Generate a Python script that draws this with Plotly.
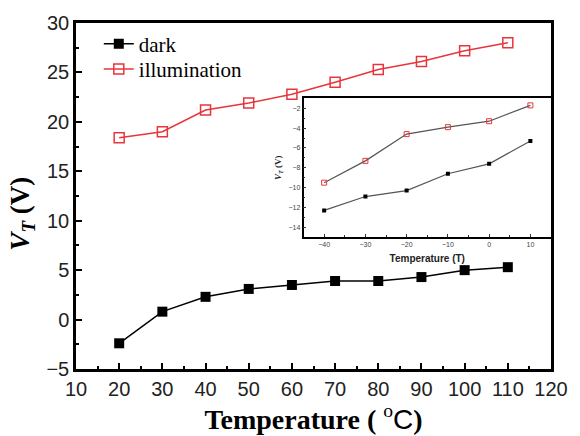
import plotly.graph_objects as go

temp_main = [20, 30, 40, 50, 60, 70, 80, 90, 100, 110]
vt_dark = [-2.4, 0.8, 2.3, 3.1, 3.5, 3.9, 3.9, 4.3, 5.0, 5.3]
vt_illum = [18.4, 19.0, 21.2, 21.9, 22.8, 24.0, 25.3, 26.1, 27.2, 28.0]

temp_inset = [-40, -30, -20, -10, 0, 10]
vt_dark_inset = [-12.3, -10.9, -10.3, -8.6, -7.6, -5.3]
vt_illum_inset = [-9.5, -7.3, -4.6, -3.9, -3.3, -1.7]

RED = "#e8353c"
SERIF = "Liberation Serif"
SANS = "Liberation Sans"

fig = go.Figure()
fig.add_trace(go.Scatter(x=temp_main, y=vt_dark, name="dark", mode="lines+markers",
                         legend="legend",
                         line=dict(color="black", width=1.5),
                         marker=dict(symbol="square", size=10, color="black")))
fig.add_trace(go.Scatter(x=temp_main, y=vt_illum, name="illumination", mode="lines+markers",
                         legend="legend2",
                         line=dict(color=RED, width=1.5),
                         marker=dict(symbol="square-open", size=10, color=RED, line=dict(width=1.5))))

fig.add_trace(go.Scatter(x=temp_inset, y=vt_dark_inset, mode="lines+markers", showlegend=False,
                         xaxis="x2", yaxis="y2",
                         line=dict(color="#555555", width=1.2),
                         marker=dict(symbol="square", size=4, color="black")))
fig.add_trace(go.Scatter(x=temp_inset, y=vt_illum_inset, mode="lines+markers", showlegend=False,
                         xaxis="x2", yaxis="y2",
                         line=dict(color="#555555", width=1.2),
                         marker=dict(symbol="square-open", size=5, color=RED, line=dict(width=1))))

leg_common = dict(xanchor="left", yanchor="middle", bgcolor="rgba(0,0,0,0)",
                  font=dict(family=SERIF, size=21, color="black"), itemwidth=30)

fig.update_layout(
    width=580, height=436,
    margin=dict(l=76, r=24, t=15, b=67),
    paper_bgcolor="white", plot_bgcolor="white",
    showlegend=True,
    legend=dict(x=0.048, y=0.939, **leg_common),
    legend2=dict(x=0.048, y=0.866, **leg_common),
    xaxis=dict(range=[10, 120], dtick=10, tick0=10, showgrid=False, zeroline=False,
               showline=True, linecolor="black", linewidth=2.5, mirror=True,
               ticks="inside", ticklen=6, tickwidth=2, tickcolor="black",
               minor=dict(ticks="inside", ticklen=3, tickwidth=2, tickcolor="black", dtick=5),
               tickfont=dict(family=SANS, size=20, color="#222"),
               title=dict(text="<b>Temperature (</b> <sup>o</sup><span style='font-family:Liberation Sans'>C</span><b>)</b>",
                          font=dict(family=SERIF, size=28, color="black"), standoff=0)),
    yaxis=dict(range=[-5, 30], dtick=5, tick0=-5, showgrid=False, zeroline=False,
               showline=True, linecolor="black", linewidth=2.5, mirror=True,
               ticks="inside", ticklen=6, tickwidth=2, tickcolor="black",
               minor=dict(ticks="inside", ticklen=3, tickwidth=2, tickcolor="black", dtick=2.5),
               tickfont=dict(family=SANS, size=20, color="#222")),
    xaxis2=dict(domain=[0.479, 1.0], anchor="y2", range=[-45, 15], dtick=10, tick0=-40,
                showgrid=False, zeroline=False, showline=True, linecolor="black", linewidth=1.5,
                mirror=True, ticks="inside", ticklen=3, tickwidth=1, tickcolor="#333",
                minor=dict(ticks="inside", ticklen=2, tickwidth=1, tickcolor="#333", dtick=5),
                tickfont=dict(family=SANS, size=7, color="#444"),
                title=dict(text="<b>Temperature (T)</b>", font=dict(family=SANS, size=10, color="#222"),
                           standoff=8)),
    yaxis2=dict(domain=[0.381, 0.782], anchor="x2", range=[-15, -1], dtick=2, tick0=-14,
                showgrid=False, zeroline=False, showline=True, linecolor="black", linewidth=1.5,
                mirror=True, ticks="inside", ticklen=3, tickwidth=1, tickcolor="#333",
                minor=dict(ticks="inside", ticklen=2, tickwidth=1, tickcolor="#333", dtick=1),
                tickfont=dict(family=SANS, size=7, color="#444"),
                title=dict(text="<b><i>V</i><sub><i>T</i></sub> (V)</b>",
                           font=dict(family=SERIF, size=9, color="#222"), standoff=5)),
    annotations=[dict(text="<b><i>V</i><sub><i>T</i></sub> (V)</b>", textangle=-90,
                      xref="paper", yref="paper", x=-0.113, y=0.45, xanchor="center", yanchor="middle",
                      showarrow=False, font=dict(family=SERIF, size=27, color="black"))],
)

fig.write_html("out.html")
